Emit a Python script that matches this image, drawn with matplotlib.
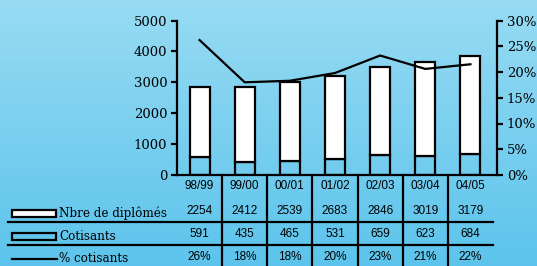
"""Diplômés vs cotisants, stacked bars with % line and a data table below."""
import numpy as np
import matplotlib
matplotlib.use("Agg")
import matplotlib.pyplot as plt
import matplotlib.transforms as mtransforms
from matplotlib.patches import Rectangle
from matplotlib.lines import Line2D

years = ["98/99", "99/00", "00/01", "01/02", "02/03", "03/04", "04/05"]
diplomes = [2254, 2412, 2539, 2683, 2846, 3019, 3179]
cotisants = [591, 435, 465, 531, 659, 623, 684]
pct = [26.2, 18.0, 18.3, 19.8, 23.2, 20.6, 21.5]
pct_labels = ["26%", "18%", "18%", "20%", "23%", "21%", "22%"]

W, H = 537, 266
SERIF = "DejaVu Serif"
SANS = "Liberation Sans"


def fy(ypix):
    return 1 - ypix / H


fig = plt.figure(figsize=(W / 100, H / 100), dpi=100)

# gradient background
bg = fig.add_axes([0, 0, 1, 1], zorder=-10)
top = np.array([152, 219, 243]) / 255
bot = np.array([92, 196, 236]) / 255
t = np.linspace(0, 1, 256)[:, None, None]
grad = top[None, None, :] * (1 - t) + bot[None, None, :] * t
bg.imshow(grad, aspect="auto", extent=[0, 1, 0, 1])
bg.axis("off")

# main axes (pixel box 177..497 x 20.5..175)
col_px = 45.14
ax = fig.add_axes([177 / W, fy(175), 320 / W, 154.5 / H])
ax.patch.set_alpha(0)
x = np.arange(len(years))
ax.bar(x, cotisants, width=0.44, facecolor="none", edgecolor="k", lw=1.6)
ax.bar(x, diplomes, bottom=cotisants, width=0.44, facecolor="white",
       edgecolor="k", lw=1.6)
ax.set_xlim(-0.5, -0.5 + 320 / col_px)
ax.set_ylim(0, 5000)
ax.set_yticks(range(0, 5001, 1000))
for s in ["top", "right"]:
    ax.spines[s].set_visible(False)
for s in ["left", "bottom"]:
    ax.spines[s].set_linewidth(1.6)
ax.tick_params(axis="y", direction="out", length=4, width=1.6, pad=3,
               labelsize=9.5, labelfontfamily=SERIF)
ax.tick_params(axis="x", bottom=False, labelbottom=False)

ax2 = ax.twinx()
ax2.plot(x, pct, color="k", lw=1.6)
ax2.set_ylim(0, 30)
ax2.set_yticks(range(0, 31, 5))
ax2.set_yticklabels([f"{v}%" for v in range(0, 31, 5)])
for s in ["top", "left", "bottom"]:
    ax2.spines[s].set_visible(False)
ax2.spines["right"].set_linewidth(1.6)
ax2.tick_params(axis="y", direction="out", length=4, width=1.6, pad=3,
                labelsize=9.5, labelfontfamily=SERIF)

# data table under the axis
trans = mtransforms.blended_transform_factory(ax.transData, fig.transFigure)
for i in range(1, len(years)):
    fig.add_artist(Line2D([i - 0.5, i - 0.5], [fy(175), 0], transform=trans,
                          color="k", lw=1.6))
for yp in [222, 245]:
    fig.add_artist(Line2D([8 / W, 493 / W], [fy(yp), fy(yp)],
                          transform=fig.transFigure, color="k", lw=1.6))

rows = [(186, years), (211, [str(v) for v in diplomes]),
        (234, [str(v) for v in cotisants]), (257, pct_labels)]
for yp, labels in rows:
    for xi, lab in zip(x, labels):
        fig.text(xi, fy(yp), lab, transform=trans, ha="center", va="center",
                 family=SANS, fontsize=8.5)

# legend keys in the table's first column
fig.add_artist(Rectangle((12 / W, fy(216.5)), 44 / W, 6.5 / H,
                         transform=fig.transFigure, facecolor="white",
                         edgecolor="k", lw=1.6))
fig.add_artist(Rectangle((12 / W, fy(239.5)), 44 / W, 6.5 / H,
                         transform=fig.transFigure, facecolor="none",
                         edgecolor="k", lw=1.6))
fig.add_artist(Line2D([12 / W, 57 / W], [fy(258.5), fy(258.5)],
                      transform=fig.transFigure, color="k", lw=1.6))
for yp, lab in [(213, "Nbre de diplômés"), (236, "Cotisants"),
                (258, "% cotisants")]:
    fig.text(59 / W, fy(yp), lab, ha="left", va="center", family=SERIF,
             fontsize=8.6)

fig.savefig("out.png", dpi=100)
